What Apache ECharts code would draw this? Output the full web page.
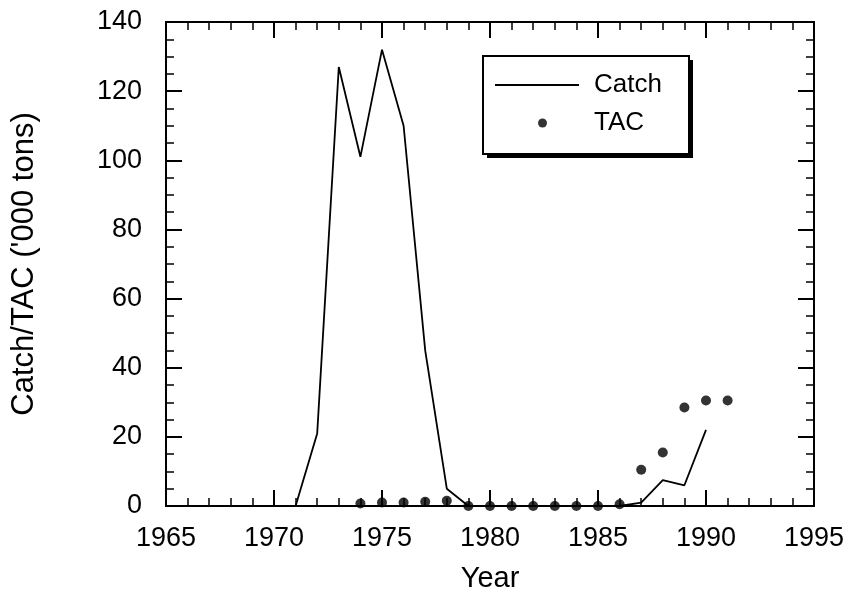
<!DOCTYPE html>
<html>
<head>
<meta charset="utf-8">
<title>Catch and TAC</title>
<script src="https://cdn.jsdelivr.net/npm/echarts@6/dist/echarts.min.js"></script>
<style>
  html, body { margin: 0; padding: 0; background: #fff; }
  #chart { width: 847px; height: 593px; }
</style>
</head>
<body>
<div id="chart"></div>
<script>
// catch ('000 tons), line
const catchYears = [1971, 1972, 1973, 1974, 1975, 1976, 1977, 1978, 1979, 1980,
  1981, 1982, 1983, 1984, 1985, 1986, 1987, 1988, 1989, 1990]
const catchValues = [0, 21, 127, 101, 132, 110, 45, 5, 0, 0,
  0, 0, 0, 0, 0, 0, 1, 7.5, 6, 22]

// TAC ('000 tons), dots
const tacYears = [1974, 1975, 1976, 1977, 1978, 1979, 1980, 1981, 1982,
  1983, 1984, 1985, 1986, 1987, 1988, 1989, 1990, 1991]
const tacValues = [0.7, 1, 1, 1.2, 1.5, 0, 0, 0, 0,
  0, 0, 0, 0.5, 10.5, 15.5, 28.5, 30.5, 30.5]

const xTicks = [1965, 1970, 1975, 1980, 1985, 1990, 1995]
const yTicks = [0, 20, 40, 60, 80, 100, 120, 140]

const font = 'Liberation Sans, Arial, Helvetica, sans-serif'

const chart = echarts.init(document.getElementById('chart'))

// shared look for the four frame sides
const frameAxis = (extra, minorSplit) => Object.assign({
  axisLine: { show: true, onZero: false, lineStyle: { color: '#000', width: 2 } },
  axisTick: { show: true, inside: true, length: 16, lineStyle: { color: '#000', width: 2 } },
  minorTick: { show: true, splitNumber: minorSplit, length: 8, lineStyle: { color: '#000', width: 1.5 } },
  splitLine: { show: false },
  minorSplitLine: { show: false }
}, extra)

const xBase = {
  type: 'value',
  min: xTicks[0],
  max: xTicks[xTicks.length - 1],
  interval: 5
}
const yBase = {
  type: 'value',
  min: yTicks[0],
  max: yTicks[yTicks.length - 1],
  interval: 20
}

const option = {
  animation: false,
  backgroundColor: '#fff',
  grid: { left: 166, right: 33, top: 22, bottom: 87, outerBoundsMode: 'none', containLabel: false },
  xAxis: [
    frameAxis(Object.assign({}, xBase, {
      position: 'bottom',
      name: 'Year',
      nameLocation: 'middle',
      nameGap: 58,
      nameTextStyle: { fontFamily: font, fontSize: 29, color: '#000' },
      axisLabel: { margin: 19, fontFamily: font, fontSize: 27, color: '#000', formatter: (v) => String(v) }
    }), 5),
    frameAxis(Object.assign({}, xBase, {
      position: 'top',
      axisLabel: { show: false }
    }), 5)
  ],
  yAxis: [
    frameAxis(Object.assign({}, yBase, {
      position: 'left',
      name: "Catch/TAC ('000 tons)",
      nameLocation: 'middle',
      nameGap: 126,
      nameTextStyle: { fontFamily: font, fontSize: 31, color: '#000' },
      axisLabel: { margin: 24, fontFamily: font, fontSize: 27, color: '#000' }
    }), 4),
    frameAxis(Object.assign({}, yBase, {
      position: 'right',
      axisLabel: { show: false }
    }), 4)
  ],
  legend: [
    {
      id: 'legCatch',
      data: [{ name: 'Catch', icon: 'rect' }],
      left: 495,
      top: 72,
      padding: 0,
      itemWidth: 84,
      itemHeight: 2,
      itemStyle: { color: '#000' },
      textStyle: { fontFamily: font, fontSize: 26, color: '#000', padding: [0, 0, 0, 10] },
      selectedMode: false,
      z: 5
    },
    {
      id: 'legTac',
      data: [{ name: 'TAC', icon: 'circle' }],
      left: 538,
      top: 110,
      padding: 0,
      itemWidth: 9,
      itemHeight: 9,
      itemStyle: { color: '#000' },
      textStyle: { fontFamily: font, fontSize: 26, color: '#000', padding: [0, 0, 0, 42] },
      selectedMode: false,
      z: 5
    }
  ],
  // legend box with its offset shadow
  graphic: [
    {
      type: 'rect',
      z: 1,
      shape: { x: 487, y: 60, width: 206, height: 98 },
      style: { fill: '#000' }
    },
    {
      type: 'rect',
      z: 2,
      shape: { x: 483, y: 56, width: 206, height: 98 },
      style: { fill: '#fff', stroke: '#000', lineWidth: 2 }
    }
  ],
  series: [
    {
      name: 'Catch',
      type: 'line',
      showSymbol: false,
      symbol: 'none',
      data: catchYears.map((y, i) => [y, catchValues[i]]),
      lineStyle: { color: '#000', width: 1.8 },
      itemStyle: { color: '#000' },
      z: 3
    },
    {
      name: 'TAC',
      type: 'scatter',
      symbol: 'circle',
      symbolSize: 10,
      data: tacYears.map((y, i) => [y, tacValues[i]]),
      itemStyle: { color: '#000' },
      z: 4
    }
  ]
}

chart.setOption(option)
</script>
</body>
</html>
